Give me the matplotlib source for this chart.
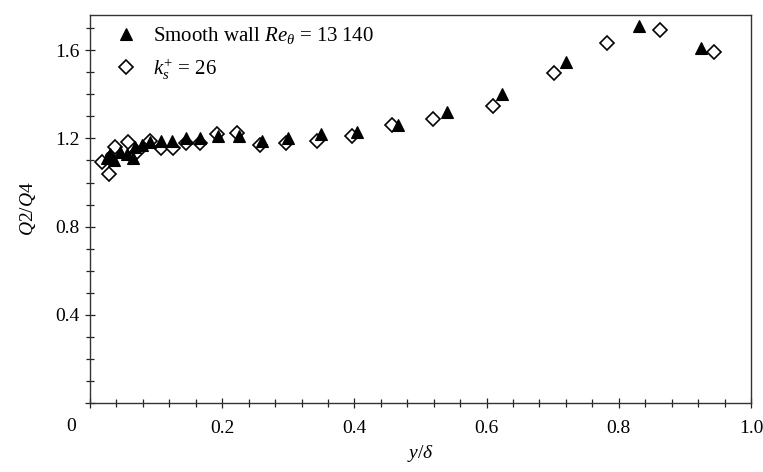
import matplotlib
matplotlib.use("Agg")
import matplotlib.pyplot as plt
from matplotlib.ticker import MultipleLocator, FixedLocator

plt.rcParams['font.family'] = ['Liberation Serif', 'DejaVu Serif']
plt.rcParams['mathtext.fontset'] = 'custom'
plt.rcParams['mathtext.rm'] = 'Liberation Serif'
plt.rcParams['mathtext.it'] = 'Liberation Serif:italic'
plt.rcParams['mathtext.bf'] = 'Liberation Serif:bold'

# Smooth wall Re_theta = 13 140 (filled triangles)
smooth_x = [0.025, 0.030, 0.036, 0.045, 0.056, 0.065, 0.068, 0.078, 0.091, 0.108,
            0.124, 0.145, 0.166, 0.194, 0.225, 0.26, 0.30, 0.349, 0.404, 0.466,
            0.54, 0.623, 0.72, 0.83, 0.924]
smooth_y = [1.11, 1.13, 1.10, 1.14, 1.13, 1.11, 1.16, 1.17, 1.185, 1.19,
            1.19, 1.20, 1.20, 1.21, 1.21, 1.19, 1.20, 1.22, 1.23, 1.26,
            1.32, 1.40, 1.545, 1.71, 1.61]

# k_s^+ = 26 (open diamonds)
rough_x = [0.018, 0.028, 0.035, 0.038, 0.058, 0.071, 0.091, 0.108, 0.126, 0.145,
           0.166, 0.192, 0.222, 0.257, 0.297, 0.343, 0.396, 0.457, 0.519, 0.609,
           0.702, 0.782, 0.862, 0.944]
rough_y = [1.094, 1.04, 1.124, 1.162, 1.185, 1.14, 1.19, 1.155, 1.155, 1.18,
           1.18, 1.22, 1.225, 1.17, 1.18, 1.19, 1.21, 1.26, 1.29, 1.346,
           1.497, 1.633, 1.69, 1.59]

x_major = [0.0, 0.2, 0.4, 0.6, 0.8, 1.0]
x_labels = ['', '0.2', '0.4', '0.6', '0.8', '1.0']
y_major = [0.0, 0.4, 0.8, 1.2, 1.6]
y_labels = ['', '0.4', '0.8', '1.2', '1.6']

fig = plt.figure(figsize=(7.63, 4.72), dpi=100)
ax = fig.add_axes([90/763, 1-403/472, (751-90)/763, (403-15)/472])

ax.plot(smooth_x, smooth_y, linestyle='none', marker='^', ms=8.5,
        mfc='black', mec='black', mew=0.8, zorder=4,
        label='Smooth wall $\\mathit{Re}_{\\theta}$ = 13\u2009140')
ax.plot(rough_x, rough_y, linestyle='none', marker='D', ms=7.5,
        mfc='white', mec='black', mew=1.2, zorder=3,
        label='$k_s^{+}$ = 26')

ax.set_xlim(0, 1.0)
ax.set_ylim(0, 1.76)

ax.xaxis.set_major_locator(FixedLocator(x_major))
ax.set_xticklabels(x_labels)
ax.xaxis.set_minor_locator(MultipleLocator(0.04))
ax.yaxis.set_major_locator(FixedLocator(y_major))
ax.set_yticklabels(y_labels)
ax.yaxis.set_minor_locator(MultipleLocator(0.1))

ax.tick_params(which='both', direction='inout', top=False, right=False,
               labelsize=14, color='#222222', width=0.9)
ax.tick_params(axis='x', which='major', length=7, pad=9)
ax.tick_params(axis='x', which='minor', length=6)
ax.tick_params(axis='y', which='major', length=7, pad=4)
ax.tick_params(axis='y', which='minor', length=6)

for s in ax.spines.values():
    s.set_linewidth(1.0)
    s.set_color('#333333')

ax.text(-0.029, -0.06, '0', transform=ax.transAxes, ha='center', va='center',
        fontsize=14)

ax.set_xlabel('$y/\\delta$', fontsize=14, labelpad=4)
ax.set_ylabel('$Q2/Q4$', fontsize=14, labelpad=12)

leg = ax.legend(loc='upper left', frameon=False, fontsize=15,
                handletextpad=0.7, labelspacing=0.5, borderaxespad=0.5,
                handlelength=1.2, bbox_to_anchor=(0.007, 1.022))

fig.savefig('out.png', dpi=100)
